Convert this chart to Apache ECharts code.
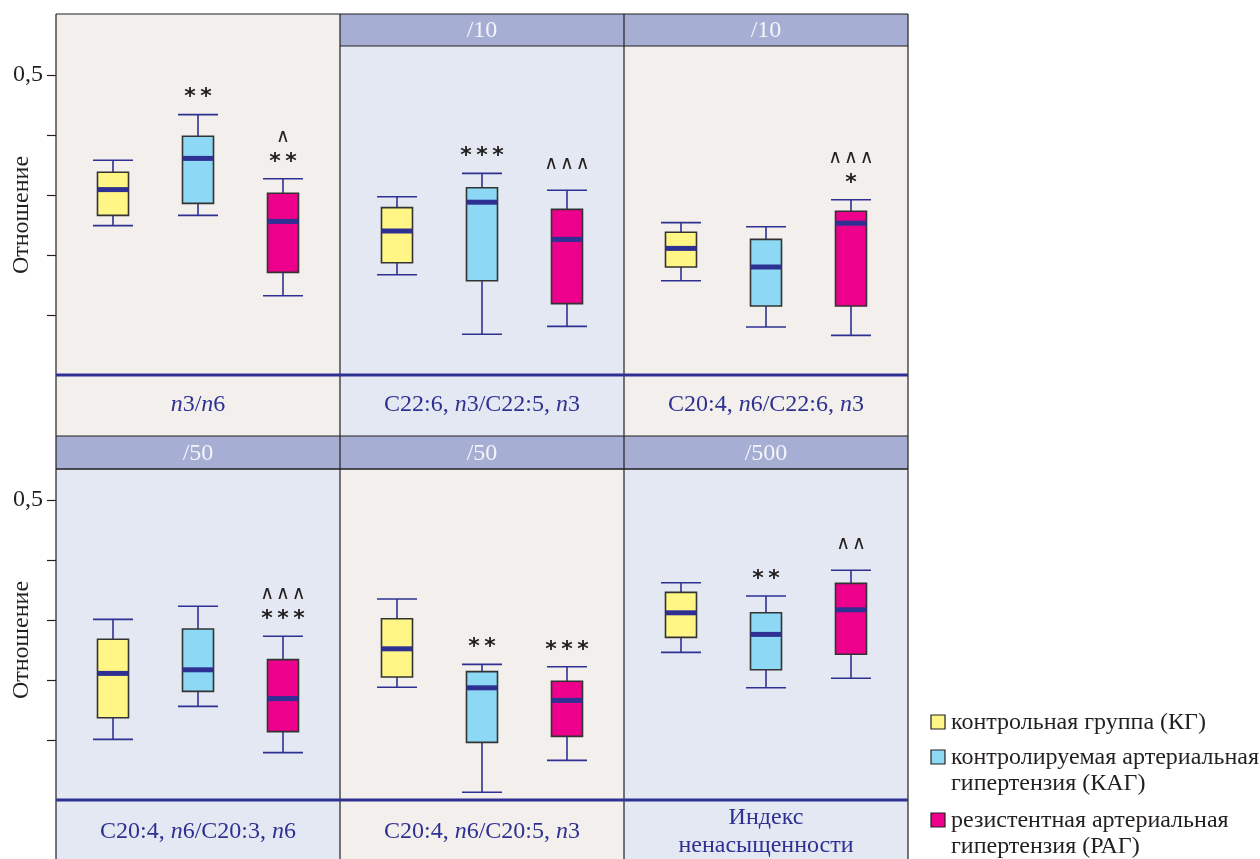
<!DOCTYPE html>
<html><head><meta charset="utf-8">
<script src="https://cdn.jsdelivr.net/npm/echarts@6/dist/echarts.min.js"></script>
<style>html,body{margin:0;padding:0;background:#fff}#c{width:1260px;height:859px}</style>
</head><body><div id="c"></div>
<script>
// ---- data ----
const categories = ['КГ', 'КАГ', 'РАГ'];
const groupNames = ['контрольная группа (КГ)', 'контролируемая артериальная\nгипертензия (КАГ)', 'резистентная артериальная\nгипертензия (РАГ)'];
const panelLabels = ['{i|n}3/{i|n}6', 'C22:6, {i|n}3/C22:5, {i|n}3', 'C20:4, {i|n}6/C22:6, {i|n}3',
                     'C20:4, {i|n}6/C20:3, {i|n}6', 'C20:4, {i|n}6/C20:5, {i|n}3', 'Индекс\nненасыщенности'];
const panelScales = ['', '/10', '/10', '/50', '/50', '/500'];
const yTickValues = [0.1, 0.2, 0.3, 0.4, 0.5];
const yAxisName = 'Отношение';
// each box: [min, Q1, median, Q3, max] for КГ, КАГ, РАГ
const p1 = [[0.249, 0.266, 0.309, 0.338, 0.358], [0.266, 0.286, 0.361, 0.398, 0.434], [0.132, 0.171, 0.256, 0.303, 0.327]];
const p2 = [[0.167, 0.187, 0.240, 0.279, 0.297], [0.068, 0.157, 0.288, 0.312, 0.336], [0.081, 0.119, 0.226, 0.276, 0.308]];
const p3 = [[0.157, 0.180, 0.211, 0.238, 0.254], [0.080, 0.115, 0.180, 0.226, 0.247], [0.066, 0.115, 0.253, 0.273, 0.292]];
const p4 = [[0.101, 0.137, 0.211, 0.268, 0.301], [0.156, 0.181, 0.217, 0.285, 0.323], [0.079, 0.114, 0.169, 0.234, 0.273]];
const p5 = [[0.188, 0.205, 0.252, 0.302, 0.335], [0.013, 0.096, 0.187, 0.214, 0.226], [0.066, 0.106, 0.166, 0.198, 0.222]];
const p6 = [[0.246, 0.271, 0.312, 0.346, 0.362], [0.187, 0.217, 0.276, 0.312, 0.340], [0.203, 0.243, 0.317, 0.361, 0.383]];
const panels = [p1, p2, p3, p4, p5, p6];
const stars  = [['', '**', '**'], ['', '***', ''], ['', '', '*'], ['', '', '***'], ['', '**', '***'], ['', '**', '']];
const carets = [['', '', '^'], ['', '', '^^^'], ['', '', '^^^'], ['', '', '^^^'], ['', '', ''], ['', '', '^^']];

// ---- styles / layout ----
const boxColors = ['#fff685', '#8dd8f5', '#ec008c'];
const NAVY = '#2e3192', INK = '#231f20';
const BEIGE = '#f2efec', BLUEBG = '#e4e8f2', HEAD = '#a6aed3';
const SERIF = '"Liberation Serif", "DejaVu Serif", serif';
const FS = 24;
const colX = [56, 340, 624, 908];
const rows = [{top: 14, plotTop: 15, zero: 375, labelBottom: 436, headTop: 14, headBottom: 46, labelY: 405},
              {top: 436, plotTop: 440, zero: 800, labelBottom: 859, headTop: 436, headBottom: 469, labelY: 832}];
const panelBg = [BEIGE, BLUEBG, BEIGE, BLUEBG, BEIGE, BLUEBG];
const PW = 284, GW = 255;

const grids = [], xAxes = [], yAxes = [], series = [], graphics = [];

const fmt = s => s.split('').join('\u2009');
const caretStr = s => s.replace(/\^/g, '\u2227').split('').join('\u200a');

panels.forEach((pd, k) => {
  const r = rows[Math.floor(k / 3)], c = k % 3;
  const x0 = colX[c];
  grids.push({left: x0 + (PW - GW) / 2, width: GW, top: r.plotTop, height: r.zero - r.plotTop});
  xAxes.push({type: 'category', gridIndex: k, data: categories, show: false});
  const first = c === 0;
  yAxes.push({type: 'value', gridIndex: k, min: 0, max: 0.6, interval: 0.1, show: first,
    offset: (PW - GW) / 2,
    axisLine: {show: false}, splitLine: {show: false},
    axisTick: {show: first, length: 9, customValues: yTickValues, lineStyle: {color: INK, width: 1.2}},
    axisLabel: {show: first, customValues: yTickValues, margin: 13, color: INK, fontFamily: SERIF, fontSize: FS,
      formatter: v => Math.abs(v - 0.5) < 1e-6 ? '0,5' : ''}});
  const data = pd.map((b, i) => [i, b[0], b[1], b[2], b[3], b[4]]);
  series.push({
    type: 'custom', xAxisIndex: k, yAxisIndex: k, data: data, clip: false,
    encode: {x: 0, y: [1, 2, 3, 4, 5]},
    renderItem: (params, api) => {
      const i = api.value(0);
      const lo = api.coord([i, api.value(1)]), q1 = api.coord([i, api.value(2)]),
            md = api.coord([i, api.value(3)]), q3 = api.coord([i, api.value(4)]),
            hi = api.coord([i, api.value(5)]);
      const x = lo[0], bw = 31, cw = 40;
      const ls = {stroke: NAVY, lineWidth: 1.6};
      const ch = [
        {type: 'line', shape: {x1: x, y1: hi[1], x2: x, y2: q3[1]}, style: ls},
        {type: 'line', shape: {x1: x, y1: q1[1], x2: x, y2: lo[1]}, style: ls},
        {type: 'line', shape: {x1: x - cw / 2, y1: hi[1], x2: x + cw / 2, y2: hi[1]}, style: ls},
        {type: 'line', shape: {x1: x - cw / 2, y1: lo[1], x2: x + cw / 2, y2: lo[1]}, style: ls},
        {type: 'rect', shape: {x: x - bw / 2, y: q3[1], width: bw, height: q1[1] - q3[1]},
          style: {fill: boxColors[params.dataIndex], stroke: '#333', lineWidth: 1.6}},
        {type: 'line', shape: {x1: x - bw / 2, y1: md[1], x2: x + bw / 2, y2: md[1]}, style: {stroke: NAVY, lineWidth: 5}}
      ];
      const st = stars[k][params.dataIndex], ca = carets[k][params.dataIndex];
      if (st) ch.push({type: 'text', style: {text: fmt(st), x: x, y: hi[1] - 17, align: 'center', verticalAlign: 'middle',
        fill: INK, fontSize: 22, fontWeight: 'bold', fontFamily: '"DejaVu Sans", sans-serif'}});
      if (ca) ch.push({type: 'text', style: {text: caretStr(ca), x: x, y: hi[1] - (st ? 42 : 26), align: 'center', verticalAlign: 'middle',
        fill: INK, fontSize: 19, fontFamily: '"DejaVu Sans", sans-serif'}});
      return {type: 'group', children: ch};
    }
  });
  // panel background
  graphics.push({type: 'rect', z: -10, shape: {x: x0, y: r.top, width: PW, height: r.labelBottom - r.top}, style: {fill: panelBg[k]}});
  if (panelScales[k]) {
    graphics.push({type: 'rect', z: -5, shape: {x: x0, y: r.headTop, width: PW, height: r.headBottom - r.headTop}, style: {fill: HEAD}});
    graphics.push({type: 'text', z: 5, style: {text: panelScales[k], x: x0 + PW / 2, y: (r.headTop + r.headBottom) / 2 + 1,
      align: 'center', verticalAlign: 'middle', fill: '#f4f5fb', fontSize: FS, fontFamily: SERIF}});
    graphics.push({type: 'line', z: 6, shape: {x1: x0, y1: r.headBottom, x2: x0 + PW, y2: r.headBottom}, style: {stroke: INK, lineWidth: 1}});
  }
  graphics.push({type: 'text', z: 5, style: {text: panelLabels[k], x: x0 + PW / 2, y: r.labelY, align: 'center', verticalAlign: 'middle',
    fill: NAVY, fontSize: FS, fontFamily: SERIF, lineHeight: 28,
    rich: {i: {fontStyle: 'italic', fill: NAVY, fontSize: FS, fontFamily: SERIF}}}});
});

// frame lines
colX.forEach(x => graphics.push({type: 'line', z: 6, shape: {x1: x, y1: 14, x2: x, y2: 859}, style: {stroke: INK, lineWidth: 1.2}}));
[14, 436, 469].forEach(y => graphics.push({type: 'line', z: 6, shape: {x1: 56, y1: y, x2: 908, y2: y}, style: {stroke: INK, lineWidth: 1.2}}));
rows.forEach(r => graphics.push({type: 'line', z: 7, shape: {x1: 56, y1: r.zero, x2: 908, y2: r.zero}, style: {stroke: NAVY, lineWidth: 3.2}}));
// y axis names
rows.forEach(r => graphics.push({type: 'text', z: 5, x: 22, y: (r.plotTop + r.zero) / 2 + 20, rotation: Math.PI / 2,
  style: {text: yAxisName, x: 0, y: 0, align: 'center', verticalAlign: 'middle', fill: INK, fontSize: FS, fontFamily: SERIF}}));
// legend
const legY = [722, 757, 820];
groupNames.forEach((n, i) => {
  graphics.push({type: 'rect', z: 5, shape: {x: 931, y: legY[i] - 7, width: 14, height: 14}, style: {fill: boxColors[i], stroke: INK, lineWidth: 1.2}});
  graphics.push({type: 'text', z: 5, style: {text: n, x: 951, y: legY[i] - 12, align: 'left', verticalAlign: 'top',
    fill: INK, fontSize: FS, fontFamily: SERIF, lineHeight: 26}});
});

const chart = echarts.init(document.getElementById('c'));
chart.setOption({
  animation: false,
  grid: grids, xAxis: xAxes, yAxis: yAxes, series: series,
  graphic: {elements: graphics}
});
</script></body></html>
